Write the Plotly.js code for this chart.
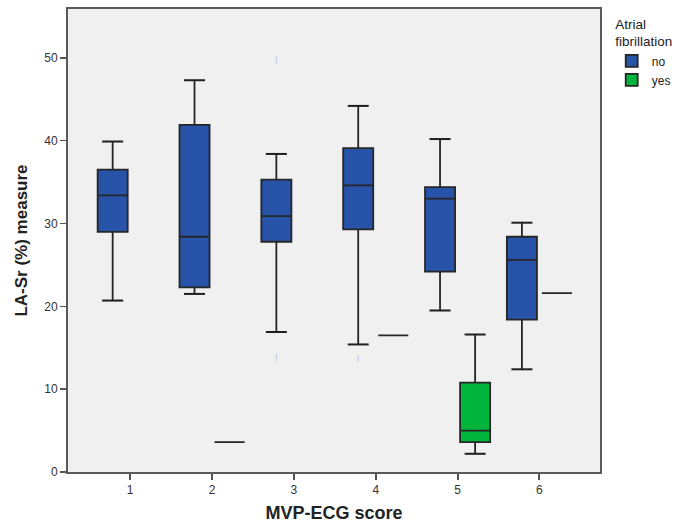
<!DOCTYPE html>
<html>
<head>
<meta charset="utf-8">
<script src="https://cdn.plot.ly/plotly-3.0.1.min.js"></script>
<style>html,body{margin:0;padding:0;background:#fff;}</style>
</head>
<body>
<div id="chart" style="width:680px;height:524px;"></div>
<script>
// MVP-ECG score categories
const scoresNo = [1, 2, 3, 4, 5, 6];
const noLower  = [20.7, 21.5, 16.9, 15.4, 19.5, 12.4];
const noQ1     = [29.0, 22.3, 27.8, 29.3, 24.2, 18.4];
const noMedian = [33.4, 28.4, 30.9, 34.6, 33.0, 25.6];
const noQ3     = [36.5, 41.9, 35.3, 39.1, 34.4, 28.4];
const noUpper  = [39.9, 47.3, 38.4, 44.2, 40.2, 30.1];

const scoresYes = [2, 4, 5, 6];
const yesLower  = [3.6, 16.5, 2.2, 21.6];
const yesQ1     = [3.6, 16.5, 3.6, 21.6];
const yesMedian = [3.6, 16.5, 5.0, 21.6];
const yesQ3     = [3.6, 16.5, 10.8, 21.6];
const yesUpper  = [3.6, 16.5, 16.6, 21.6];

// outliers (group "no")
const outlierScores = [3, 3, 4];
const outlierValues = [49.7, 13.8, 13.65];

const tickVals = [1, 2, 3, 4, 5, 6];
const tickText = ['1', '2', '3', '4', '5', '6'];

const BOXGAP = 0.143, BOXGROUPGAP = 0.143;
const groupOffset = 0.25 * (1 - BOXGAP); // Plotly group offset for 2 groups, unit spacing

const blue = '#2753a9', green = '#00b53c';
const edge = '#262626';

function caps(xs, lo, q1, q3, hi, sign) {
  const x = [], y = [];
  xs.forEach((c, i) => {
    if (hi[i] !== q3[i]) { x.push(c + sign * groupOffset); y.push(hi[i]); }
    if (lo[i] !== q1[i]) { x.push(c + sign * groupOffset); y.push(lo[i]); }
  });
  return {x, y};
}
const capsNo = caps(scoresNo, noLower, noQ1, noQ3, noUpper, -1);
const capsYes = caps(scoresYes, yesLower, yesQ1, yesQ3, yesUpper, 1);

const traces = [
  {
    type: 'box', name: 'no', legendgroup: 'no', offsetgroup: 'no',
    x: scoresNo, q1: noQ1, median: noMedian, q3: noQ3,
    lowerfence: noLower, upperfence: noUpper,
    fillcolor: blue, marker: {color: blue},
    line: {color: edge, width: 1.8}, whiskerwidth: 0, hoverinfo: 'y'
  },
  {
    type: 'box', name: 'yes', legendgroup: 'yes', offsetgroup: 'yes',
    x: scoresYes, q1: yesQ1, median: yesMedian, q3: yesQ3,
    lowerfence: yesLower, upperfence: yesUpper,
    fillcolor: green, marker: {color: green},
    line: {color: edge, width: 1.8}, whiskerwidth: 0, hoverinfo: 'y'
  },
  {
    type: 'scatter', mode: 'markers', showlegend: false, hoverinfo: 'skip',
    x: capsNo.x.concat(capsYes.x), y: capsNo.y.concat(capsYes.y),
    marker: {symbol: 'line-ew', size: 15, line: {color: '#1e1e1e', width: 2}}
  },
  {
    type: 'scatter', mode: 'markers', showlegend: false, hoverinfo: 'skip',
    x: outlierScores.map(c => c - groupOffset), y: outlierValues,
    marker: {symbol: 'line-ns', size: 5, line: {color: '#b9c6dd', width: 1}}
  }
];

const layout = {
  width: 680, height: 524,
  margin: {l: 68, r: 80, t: 9, b: 52, autoexpand: false},
  paper_bgcolor: '#ffffff', plot_bgcolor: '#f0f0f0',
  font: {family: 'Liberation Sans, Arial, sans-serif', color: '#333', size: 11},
  boxmode: 'group', boxgap: BOXGAP, boxgroupgap: BOXGROUPGAP,
  xaxis: {
    type: 'linear', range: [0.24, 6.74],
    tickvals: tickVals, ticktext: tickText,
    ticks: 'outside', ticklen: 6, tickwidth: 2, tickcolor: '#555',
    showline: true, linecolor: '#5a5a5a', linewidth: 2, mirror: true,
    showgrid: false, zeroline: false,
    tickfont: {size: 12, color: '#333'},
    title: {text: '<b>MVP-ECG score</b>', font: {size: 18, color: '#222'}, standoff: 10}
  },
  yaxis: {
    range: [0, 55.9],
    tickvals: [0, 10, 20, 30, 40, 50],
    ticks: 'outside', ticklen: 6, tickwidth: 1.5, tickcolor: '#555',
    showline: true, linecolor: '#5a5a5a', linewidth: 2, mirror: true,
    showgrid: false, zeroline: false,
    tickfont: {size: 12, color: '#333'},
    title: {text: '<b>LA-Sr (%) measure</b>', font: {size: 17, color: '#222'}, standoff: 12}
  },
  legend: {
    x: 1.022, y: 0.995, xanchor: 'left', yanchor: 'top',
    bgcolor: 'rgba(0,0,0,0)',
    font: {size: 12, color: '#222'},
    title: {text: 'Atrial<br>fibrillation', font: {size: 13.5, color: '#222'}, side: 'top center'},
    itemwidth: 30, tracegroupgap: 0
  },
  showlegend: true
};

Plotly.newPlot('chart', traces, layout, {displayModeBar: false, staticPlot: true});
</script>
</body>
</html>
